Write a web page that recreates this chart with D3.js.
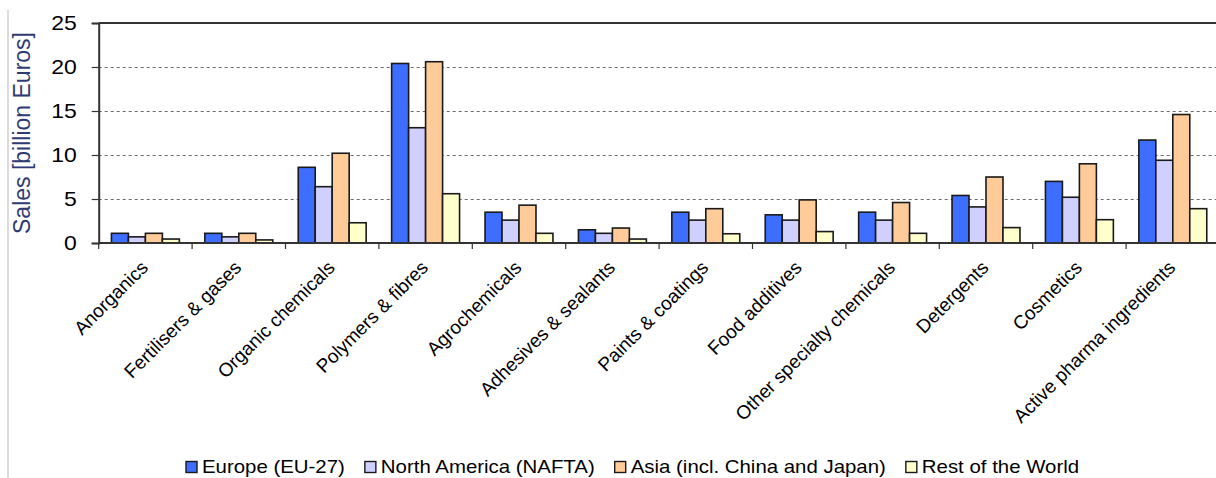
<!DOCTYPE html>
<html>
<head>
<meta charset="utf-8">
<script src="https://cdn.jsdelivr.net/npm/d3@7"></script>
<style>
  html, body { margin: 0; padding: 0; background: #fff; }
  svg { display: block; font-family: "Liberation Sans", Arial, sans-serif; }
</style>
</head>
<body>
<svg id="chart" width="1216" height="478"></svg>
<script>
const categories = ["Anorganics", "Fertilisers & gases", "Organic chemicals", "Polymers & fibres",
  "Agrochemicals", "Adhesives & sealants", "Paints & coatings", "Food additives",
  "Other specialty chemicals", "Detergents", "Cosmetics", "Active pharma ingredients"];
const seriesNames = ["Europe (EU-27)", "North America (NAFTA)", "Asia (incl. China and Japan)", "Rest of the World"];
const europe = [1.1, 1.1, 8.6, 20.4, 3.5, 1.5, 3.5, 3.2, 3.5, 5.4, 7.0, 11.7];
const nafta  = [0.7, 0.7, 6.4, 13.1, 2.6, 1.1, 2.6, 2.6, 2.6, 4.1, 5.2, 9.4];
const asia   = [1.1, 1.1, 10.2, 20.6, 4.3, 1.7, 3.9, 4.9, 4.6, 7.5, 9.0, 14.6];
const rest   = [0.45, 0.35, 2.3, 5.6, 1.1, 0.45, 1.05, 1.3, 1.1, 1.75, 2.65, 3.9];
const yTicks = [0, 5, 10, 15, 20, 25];
const colors = ["#3D6EFF", "#D0D0FF", "#FFCC99", "#FFFFCC"];

(function () {
const seriesValues = [europe, nafta, asia, rest];
const data = categories.map((c, i) => ({
  category: c,
  values: seriesNames.map((s, j) => ({ series: s, value: seriesValues[j][i] }))
}));

const svg = d3.select("#chart");
const pLeft = 98.7, pRight = 1219.5, pTop = 23, pBottom = 243;

const x0 = d3.scaleBand().domain(categories).range([pLeft, pRight]).paddingInner(0).paddingOuter(0);
const x1 = d3.scaleBand().domain(seriesNames).range([0, x0.bandwidth()]).paddingInner(0).paddingOuter(0.75);
const y = d3.scaleLinear().domain([0, 25]).range([pBottom, pTop]);

// outer chart border line (left)
svg.append("line").attr("x1", 8).attr("x2", 8).attr("y1", 10).attr("y2", 478)
  .attr("stroke", "#d0d0d0").attr("stroke-width", 1.5);

// gridlines
svg.append("g").selectAll("line").data(yTicks.filter(t => t > 0 && t < 25)).join("line")
  .attr("x1", pLeft).attr("x2", pRight)
  .attr("y1", d => Math.round(y(d)) + 0.5).attr("y2", d => Math.round(y(d)) + 0.5)
  .attr("stroke", "#6a6a6a").attr("stroke-width", 1).attr("stroke-dasharray", "3,3");

// plot border top / right
svg.append("line").attr("x1", pLeft).attr("x2", pRight).attr("y1", pTop).attr("y2", pTop)
  .attr("stroke", "#333").attr("stroke-width", 2);
svg.append("line").attr("x1", pRight - 1).attr("x2", pRight - 1).attr("y1", pTop).attr("y2", pBottom)
  .attr("stroke", "#333").attr("stroke-width", 2);

// bars
const groups = svg.append("g").selectAll("g").data(data).join("g")
  .attr("transform", d => `translate(${x0(d.category)},0)`);
groups.selectAll("rect").data(d => d.values).join("rect")
  .attr("x", d => x1(d.series))
  .attr("width", x1.bandwidth())
  .attr("y", d => y(d.value))
  .attr("height", d => y(0) - y(d.value))
  .attr("fill", (d, i) => colors[i])
  .attr("stroke", "#1a1a1a").attr("stroke-width", 1.6);

// y axis
const yAxis = d3.axisLeft(y).tickValues(yTicks).tickSize(7).tickPadding(12).tickFormat(d3.format("d"));
const yg = svg.append("g").attr("transform", `translate(${pLeft},0)`).call(yAxis);
yg.select(".domain").attr("stroke", "#333").attr("stroke-width", 2);
yg.selectAll(".tick line").attr("stroke", "#333").attr("stroke-width", 1.2);
yg.selectAll(".tick text").attr("font-size", "20px").attr("fill", "#000")
  .attr("font-family", "'Liberation Sans', Arial, sans-serif")
  .attr("transform", "scale(1.15,1)");

// x axis
const boundaries = categories.map(c => x0(c));
const xg = svg.append("g");
xg.append("line").attr("x1", pLeft).attr("x2", pRight).attr("y1", pBottom).attr("y2", pBottom)
  .attr("stroke", "#333").attr("stroke-width", 2);
xg.selectAll("line.tk").data(boundaries).join("line").attr("class", "tk")
  .attr("x1", d => d).attr("x2", d => d).attr("y1", pBottom).attr("y2", pBottom + 6)
  .attr("stroke", "#333").attr("stroke-width", 1.2);
xg.selectAll("text").data(categories).join("text")
  .attr("transform", d => `translate(${x0(d) + x0.bandwidth() / 2 - 1},${pBottom + 21}) rotate(-45)`)
  .attr("text-anchor", "end").attr("dy", "0.35em")
  .attr("font-size", "19px").attr("fill", "#000")
  .text(d => d);

// y title
svg.append("text")
  .attr("transform", "translate(30,133) rotate(-90)")
  .attr("text-anchor", "middle")
  .attr("font-size", "23px").attr("fill", "#2F3B73")
  .text("Sales [billion Euros]");

// legend
const lg = svg.append("g");
let lx = 186;
seriesNames.forEach((s, i) => {
  lg.append("rect").attr("x", lx).attr("y", 461.5).attr("width", 11).attr("height", 11)
    .attr("fill", colors[i]).attr("stroke", "#1a1a1a").attr("stroke-width", 1.4);
  const t = lg.append("text")
    .attr("transform", `translate(${lx + 16},472.5) scale(1.14,1)`)
    .attr("font-size", "17.9px").attr("fill", "#000")
    .text(s);
  const w = t.node().getComputedTextLength() * 1.14;
  lx = lx + 16 + w + 20;
});
})();
</script>
</body>
</html>
